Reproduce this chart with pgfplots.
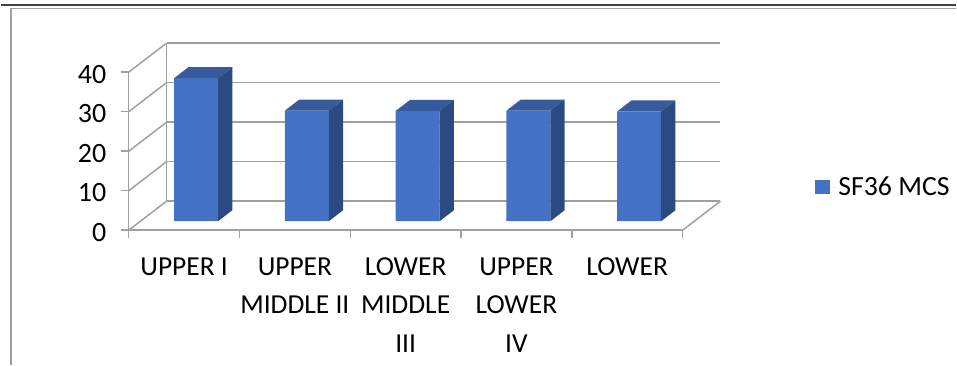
\documentclass[border=0pt]{standalone}
\usepackage{pgfplots}
\pgfplotsset{compat=1.18}
\usepackage{pgfplotstable}
\usepackage{fontspec}
\setmainfont{Carlito}
\definecolor{barfront}{HTML}{4472C4}
\definecolor{bartop}{HTML}{365A9C}
\definecolor{barside}{HTML}{2C4A82}
\definecolor{gridgray}{HTML}{A0A0A0}

\pgfplotstableread{
x v
1 36.2
2 28.0
3 27.9
4 28.0
5 27.8
}\datatable

\begin{document}
\begin{tikzpicture}[x=1pt,y=1pt]
\begin{axis}[
  set layers,
  anchor=south west,
  x=111pt, y=3.96pt,
  xmin=0.392, xmax=5.392, ymin=-2.273, ymax=37.727,
  clip=false,
  axis x line*=bottom, axis y line*=left,
  axis line style={-, gridgray, line width=1.5pt},
  tick align=outside,
  major tick length=8pt,
  tick style={gridgray, line width=1.5pt},
  xtick={0.392,1.392,2.392,3.392,4.392,5.392},
  xticklabels={},
  extra x ticks={0.892,1.892,2.892,3.892,4.892},
  extra x tick labels={UPPER I,{UPPER\\MIDDLE II},{LOWER\\MIDDLE\\III},{UPPER\\LOWER\\IV},LOWER},
  extra x tick style={major tick length=0pt, tick style={draw=none}},
  x tick label style={align=center, anchor=north, font=\fontsize{27.5}{38.5}\selectfont, yshift=-24pt},
  ytick={-2.273,7.727,17.727,27.727,37.727},
  yticklabels={0,10,20,30,40},
  y tick label style={font=\fontsize{28}{32}\selectfont, xshift=-11pt, yshift=-2pt},
  /pgf/number format/assume math mode=true,
  legend style={at={(axis description cs:1.2396,0.2727)}, anchor=west, draw=none, fill=none,
    inner sep=0pt, font=\fontsize{27.8}{32}\selectfont},
]
\coordinate (O) at (axis cs:0.392,-2.273);
\begin{pgfonlayer}{axis background}
\pgfplotsinvokeforeach{0,10,20,30,40}{
  \draw[gridgray, line width=1.5pt] (axis cs:0.734,5.08+#1) -- (axis cs:5.734,5.08+#1);
  \draw[gridgray, line width=1.5pt] (axis cs:0.392,#1-2.273) -- (axis cs:0.734,5.08+#1);
}
\draw[gridgray, line width=1.5pt] (axis cs:0.734,5.08) -- (axis cs:0.734,45.08);
\draw[gridgray, line width=1.5pt] (axis cs:5.392,-2.273) -- (axis cs:5.734,5.08);
\end{pgfonlayer}

\addplot[ybar, bar width=44pt, bar shift=0pt, fill=barfront, draw=none,
  legend image code/.code={\fill[barfront] (0pt,-7pt) rectangle (15pt,7pt); \path (0pt,0pt) -- (21pt,0pt);}]
  table[x=x,y=v]{\datatable};
\addlegendentry{SF36 MCS}

\pgfplotsforeachungrouped \i in {0,...,4}{%
  \pgfplotstablegetelem{\i}{x}\of\datatable \let\bx\pgfplotsretval
  \pgfplotstablegetelem{\i}{v}\of\datatable \let\bv\pgfplotsretval
  \pgfmathsetmacro\xl{\bx-0.198}%
  \pgfmathsetmacro\xr{\bx+0.198}%
  \pgfmathsetmacro\xlb{\bx-0.198+0.129}%
  \pgfmathsetmacro\xrb{\bx+0.198+0.129}%
  \pgfmathsetmacro\vb{\bv+2.78}%
  \edef\tmp{\noexpand\addplot[fill=bartop, draw=none, forget plot] coordinates {(\xl,\bv) (\xr,\bv) (\xrb,\vb) (\xlb,\vb)};}%
  \tmp
  \edef\tmp{\noexpand\addplot[fill=barside, draw=none, forget plot] coordinates {(\xr,0) (\xrb,2.78) (\xrb,\vb) (\xr,\bv)};}%
  \tmp
}
\end{axis}
\path ([shift={(-128,-135.3)}]O) rectangle ([shift={(829,230.7)}]O);
\draw[line width=2pt, color=black!75] ([shift={(-128,225.7)}]O) -- ([shift={(829,225.7)}]O);
\draw[line width=1pt, color=gridgray] ([shift={(-118,222.4)}]O) -- ([shift={(829,222.4)}]O);
\draw[line width=1.5pt, color=gridgray] ([shift={(-118,222.4)}]O) -- ([shift={(-118,-135.3)}]O);
\end{tikzpicture}
\end{document}
